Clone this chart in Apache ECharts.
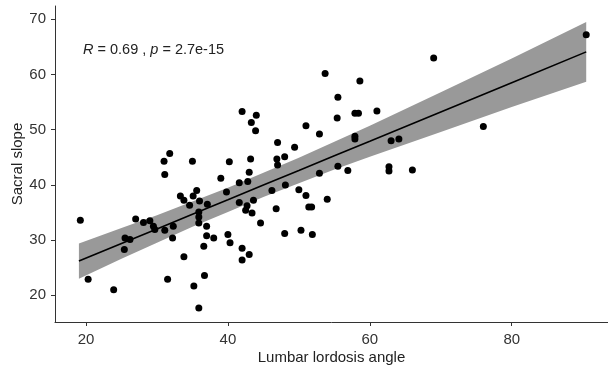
<!DOCTYPE html>
<html>
<head>
<meta charset="utf-8">
<script src="https://cdn.jsdelivr.net/npm/echarts@6/dist/echarts.min.js"></script>
<style>
html,body{margin:0;padding:0;background:#fff;}
#chart{width:608px;height:370px;}
</style>
</head>
<body>
<div id="chart"></div>
<script>
// Lumbar lordosis angle (x) and Sacral slope (y) for each subject
const lumbar = [19.2,20.3,23.9,25.5,26.2,25.4,27.0,28.1,29.0,29.5,29.7,31.1,32.3,32.2,31.5,33.8,35.2,35.9,36.7,36.6,
  37.0,38.0,37.0,31.8,31.0,35.0,31.1,33.3,35.6,35.1,33.8,36.0,37.1,34.6,35.9,35.9,35.9,39.0,39.8,40.2,
  40.0,40.3,41.6,41.6,42.0,42.0,43.0,42.0,44.0,43.3,43.9,43.2,43.0,42.8,42.7,43.6,42.5,43.4,44.6,47.0,
  49.4,46.9,47.0,48.0,46.2,48.1,50.0,46.8,48.0,50.3,51.0,54.0,51.4,51.8,51.9,51.0,52.9,53.7,55.5,55.4,
  57.9,58.4,61.0,58.6,57.9,57.9,63.0,64.1,55.5,52.9,56.9,62.7,62.7,66.0,69.0,76.0,90.5];
const sacral = [33.6,22.9,21.0,30.4,30.1,28.3,33.8,33.2,33.5,32.5,31.9,31.8,32.5,30.4,22.9,27.0,21.7,17.7,23.6,28.9,
  30.8,30.4,32.5,45.7,44.3,44.3,41.9,38.0,39.0,38.0,37.2,37.1,36.5,36.3,35.1,34.2,33.1,41.2,38.7,44.2,
  31.0,29.5,40.4,36.8,28.5,26.4,27.4,53.3,52.6,51.3,49.8,44.7,42.3,40.6,36.2,37.2,35.4,34.9,33.1,47.7,
  46.8,44.7,43.6,45.1,39.0,40.0,39.1,35.7,31.2,31.8,38.1,37.4,36.0,36.0,31.0,50.7,49.2,60.2,55.9,52.1,
  53.0,53.0,53.4,58.8,48.8,48.3,48.0,48.3,43.4,42.1,42.6,43.3,42.5,42.7,63.0,50.6,67.2];

// Regression line and its confidence band
const fitX     = [19,   25,   30,   35,   40,   45,   50,   55,   60,   70,   80,   90.5];
const fitY     = [26.2, 29.4, 32.0, 34.7, 37.3, 40.0, 42.6, 45.3, 47.9, 53.2, 58.5, 64.1];
const fitUpper = [29.4, 32.2, 34.5, 37.0, 39.5, 42.2, 44.9, 47.8, 50.7, 56.8, 62.9, 69.5];
const fitLower = [23.0, 26.6, 29.5, 32.4, 35.1, 37.8, 40.3, 42.8, 45.1, 49.6, 54.1, 58.7];

const xTicks = [20, 40, 60, 80];
const yTicks = [20, 30, 40, 50, 60, 70];

const statR = '0.69';
const statP = '2.7e-15';

const FONT = '"Liberation Sans", Arial, sans-serif';

const chart = echarts.init(document.getElementById('chart'), null, {renderer: 'canvas'});

const axisCommon = {
  type: 'value',
  splitLine: {show: false},
  axisLine: {show: true, onZero: false, lineStyle: {color: '#333', width: 1}},
  axisTick: {show: true, length: 4, lineStyle: {color: '#333', width: 1}},
  nameLocation: 'middle',
  nameMoveOverlap: false,
  nameTextStyle: {fontFamily: FONT, fontSize: 15, color: '#222'}
};

chart.setOption({
  animation: false,
  backgroundColor: '#fff',
  title: {
    text: '{i|R} = ' + statR + ' , {i|p} = ' + statP,
    left: 78,
    top: 37,
    textStyle: {
      fontFamily: FONT, fontSize: 14.5, fontWeight: 'normal', color: '#222',
      rich: {i: {fontFamily: FONT, fontSize: 14.5, fontStyle: 'italic', color: '#222'}}
    }
  },
  grid: {left: 55, right: 0, top: 6, bottom: 48, containLabel: false, outerBoundsMode: 'none'},
  xAxis: Object.assign({}, axisCommon, {
    min: 15.63, max: 93.57,
    name: 'Lumbar lordosis angle',
    nameGap: 28,
    axisTick: Object.assign({}, axisCommon.axisTick, {customValues: xTicks}),
    axisLabel: {customValues: xTicks, margin: 10, fontFamily: FONT, fontSize: 15, color: '#333'}
  }),
  yAxis: Object.assign({}, axisCommon, {
    min: 15.16, max: 72.41,
    name: 'Sacral slope',
    nameGap: 30,
    axisTick: Object.assign({}, axisCommon.axisTick, {customValues: yTicks}),
    axisLabel: {customValues: yTicks, margin: 9, fontFamily: FONT, fontSize: 15, color: '#333'}
  }),
  series: [
    {
      type: 'custom',
      z: 1,
      silent: true,
      data: fitX.map((x, i) => [x, fitLower[i], fitUpper[i]]),
      encode: {x: 0, y: [1, 2]},
      renderItem: function (params, api) {
        if (params.dataIndex !== 0) return null;
        const pts = [];
        for (let i = 0; i < fitX.length; i++) pts.push(api.coord([fitX[i], fitUpper[i]]));
        for (let i = fitX.length - 1; i >= 0; i--) pts.push(api.coord([fitX[i], fitLower[i]]));
        return {type: 'polygon', shape: {points: pts}, style: {fill: '#999999', stroke: null}};
      }
    },
    {
      type: 'line',
      z: 2,
      data: fitX.map((x, i) => [x, fitY[i]]),
      showSymbol: false,
      lineStyle: {color: '#000', width: 1.6},
      silent: true
    },
    {
      type: 'scatter',
      z: 3,
      data: lumbar.map((x, i) => [x, sacral[i]]),
      symbol: 'circle',
      symbolSize: 7,
      itemStyle: {color: '#000', opacity: 1}
    }
  ]
});
</script>
</body>
</html>
